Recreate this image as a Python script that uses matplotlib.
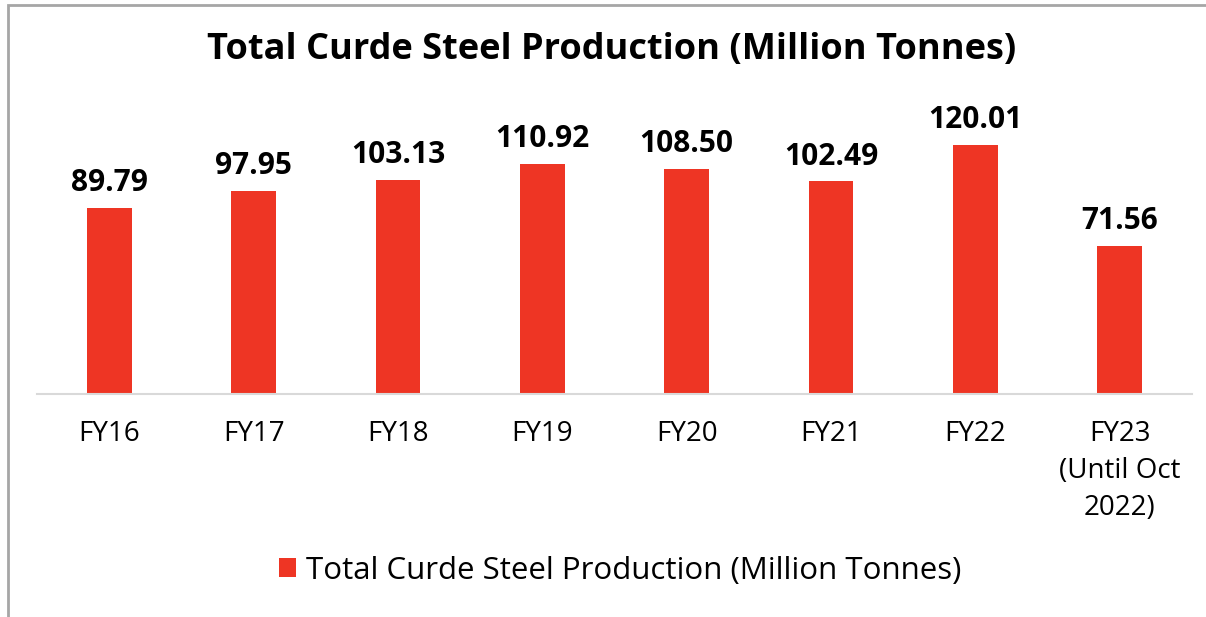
import matplotlib.pyplot as plt
from matplotlib.patches import Rectangle

#%% Data
categories = ['FY16', 'FY17', 'FY18', 'FY19', 'FY20', 'FY21', 'FY22',
              'FY23\n(Until Oct\n2022)']
production = [89.79, 97.95, 103.13, 110.92, 108.50, 102.49, 120.01, 71.56]
label = 'Total Curde Steel Production (Million Tonnes)'

bar_color = '#EE3524'
W, H = 1206, 617

plt.rcParams['font.family'] = ['Open Sans', 'DejaVu Sans']

#%% Plot
fig = plt.figure(figsize=(W/100, H/100), dpi=100)
# axes placed in pixel terms: baseline at y=394, x from 37 to 1192
ax = fig.add_axes([37/W, (H-394)/H, (1192-37)/W, (394-85)/H])

x = range(len(categories))
bars = ax.bar(x, production, width=0.31, color=bar_color, label=label)
ax.set_xlim(-0.5, len(categories) - 0.5)
ax.set_ylim(0, (394-85)/2.075)

for xi, v in zip(x, production):
    ax.annotate('%.2f' % v, (xi, v), xytext=(0, 7), textcoords='offset points',
                ha='center', va='bottom', fontsize=21.5, fontweight='bold')

ax.set_xticks(list(x))
ax.set_xticklabels(categories, fontsize=20, linespacing=1.42)
ax.tick_params(axis='x', length=0, pad=19)
ax.set_yticks([])
for s in ['top', 'left', 'right']:
    ax.spines[s].set_visible(False)
ax.spines['bottom'].set_color('#d9d9d9')
ax.spines['bottom'].set_linewidth(1.5)

fig.text(612/W, 1 - 50/H, label, ha='center', va='center',
         fontsize=26, fontweight='bold')

leg = fig.legend(handles=[bars], labels=[label], loc='center',
                 bbox_to_anchor=(620/W, 1 - 571/H), frameon=False,
                 fontsize=22.5, handlelength=0.56, handleheight=0.56,
                 handletextpad=0.3)

# outer chart border (grey, left and top visible)
fig.patches.append(Rectangle((8/W, -0.05), 1.2, 1 - 5/H + 0.05,
                             transform=fig.transFigure, fill=False,
                             edgecolor='#a6a6a6', linewidth=2))

fig.savefig('out.png', dpi=100)
